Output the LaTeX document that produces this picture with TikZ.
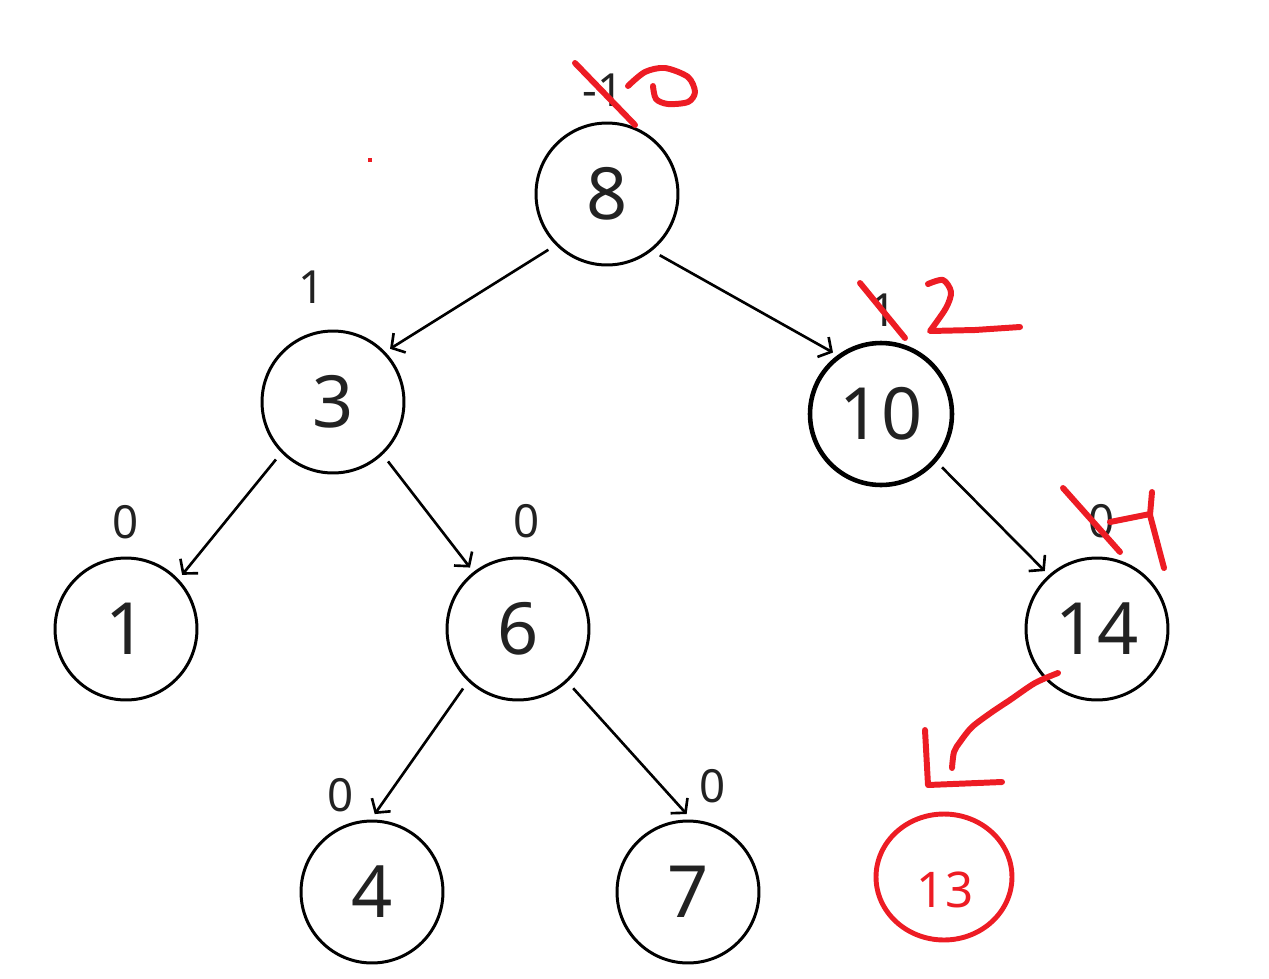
\documentclass[tikz,border=0pt]{standalone}
\usepackage{fontspec}
\setmainfont{Noto Sans}
\usetikzlibrary{arrows.meta,shapes.geometric}
\definecolor{ink}{HTML}{222222}
\definecolor{pen}{HTML}{ED1C24}
\begin{document}
\begin{tikzpicture}[x=0.02cm,y=-0.02cm,
  tnode/.style={circle,draw=black,line width=1.7pt,minimum size=2.84cm,inner sep=0pt,outer sep=0.14cm,font=\fontsize{41}{41}\selectfont,text=ink},
  bf/.style={font=\fontsize{26}{26}\selectfont,text=ink,inner sep=0pt},
  edge/.style={line width=1.5pt,-{Straight Barb[length=5.5pt,width=13pt,line width=1.5pt]},shorten <=0.06cm},
  redpen/.style={draw=pen,line width=3.4pt,line cap=round,line join=round}]
\useasboundingbox (0,0) rectangle (1269,978);

% tree nodes
\node[tnode] (n8) at (607,194) {8};
\node[tnode] (n3) at (333,402) {3};
\node[tnode,line width=2.6pt] (n10) at (881,414) {10};
\node[tnode] (n1) at (126,629) {1};
\node[tnode] (n6) at (518,629) {6};
\node[tnode] (n14) at (1097,629) {14};
\node[tnode] (n4) at (372,892) {4};
\node[tnode] (n7) at (688,892) {7};

% edges
\draw[edge] (n8.224.5) -- (n3.43);
\draw[edge] (n8.310) -- (n10.128);
\draw[edge] (n3.225) -- (n1.44.5);
\draw[edge] (n3.313.5) -- (n6.128);
\draw[edge] (n10.319.5) -- (n14.132);
\draw[edge] (n6.227) -- (n4.88.5);
\draw[edge] (n6.313.5) -- (n7.91.5);

% balance factors
\node[bf] (b8) at (603,90) {-1};
\node[bf] (b3) at (312,287) {1};
\node[bf] (b10) at (884,310) {1};
\node[bf] (b1) at (126,522) {0};
\node[bf] (b6) at (527,521) {0};
\node[bf] (b14) at (1102,521) {0};
\node[bf] (b4) at (341,795) {0};
\node[bf] (b7) at (713,786) {0};

% red annotations
\draw[redpen] (575,63) -- (635,125);
\draw[redpen] plot[smooth] coordinates {(628,86) (645,72) (665,68) (688,77) (695,92) (688,102) (668,104) (656,99) (653,86)};
\draw[redpen] (860,283) -- (905,338);
\draw[redpen] plot[smooth] coordinates {(928,284) (943,280) (951,292) (946,308) (930,331)} -- (975,330) -- (1020,327);
\draw[redpen] (1063,488) -- (1120,552);
\draw[redpen] (1110,522) -- (1150,514);
\draw[redpen] (1152,492) -- (1150,515) -- (1164,568);
\draw[redpen] plot[smooth] coordinates {(1058,673) (1035,683) (1010,700) (992,712) (972,727) (960,742) (954,752) (952,768)};
\draw[redpen] (925,730) -- (928,785) -- (1002,782);
\fill[pen] (368,158) rectangle (372,162);

\node[ellipse,draw=pen,line width=2.8pt,minimum width=2.72cm,minimum height=2.52cm,inner sep=0pt] (n13) at (944,877) {};
\node[text=pen,font=\fontsize{28}{28}\selectfont,inner sep=0pt] (t13) at (945,890) {13};
\end{tikzpicture}
\end{document}
